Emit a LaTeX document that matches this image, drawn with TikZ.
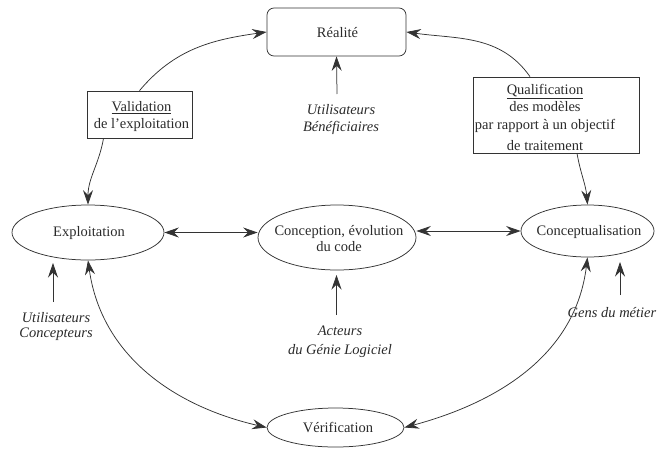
\documentclass[tikz,border=0pt]{standalone}
\usepackage{fontspec}
\setmainfont{Liberation Serif}
\usetikzlibrary{shapes.geometric,arrows.meta}
\definecolor{linegray}{HTML}{333333}
\definecolor{textgray}{HTML}{2A2A2A}
\begin{document}
\fontsize{14.5}{16}\selectfont
\begin{tikzpicture}[x=1pt,y=1pt,
  line/.style={draw=linegray, line width=0.75pt},
  tip/.tip={Stealth[length=14.5pt,width=10pt,inset=5pt]},
  arr/.style={line, -tip},
  darr/.style={line, tip-tip},
  box/.style={draw=linegray, line width=0.75pt, inner sep=0pt, align=center, text=textgray},
  ell/.style={ellipse, draw=linegray, line width=0.75pt, inner sep=0pt},
  txt/.style={align=center, text=textgray, inner sep=0pt},
  lbl/.style={font=\itshape, align=center, text=textgray, inner sep=0pt}]
\useasboundingbox (0,0) rectangle (671,-450);

% boxes
\node[box, rounded corners=7pt, minimum width=139pt, minimum height=48pt] (real) at (336.5,-32) {};
\node[txt] (realt) at (337.5,-33) {Réalité};
\node[box, minimum width=105pt, minimum height=47pt] (val) at (139.5,-114.5) {};
\node[txt, font=\fontsize{14.5}{17}\selectfont] (valt) at (141.5,-117) {\underline{Validation}\\de l’exploitation};
\node[box, minimum width=166pt, minimum height=76pt] (qual) at (556,-115) {};
\node[txt, font=\fontsize{14.5}{17.5}\selectfont] (qualt) at (545,-117) {\underline{Qualification}\\des modèles\\par rapport à un objectif\\[3.5pt]de traitement};

% ellipses
\node[ell, minimum width=152pt, minimum height=55pt] (expl) at (88,-232.5) {};
\node[txt] (explt) at (89,-233) {Exploitation};
\node[ell, minimum width=158pt, minimum height=65pt] (conc) at (337,-237.5) {};
\node[txt] (conct) at (339,-239) {Conception, évolution\\du code};
\node[ell, minimum width=133pt, minimum height=52pt] (cptl) at (587.5,-231) {};
\node[txt] (cptlt) at (589,-232) {Conceptualisation};
\node[ell, minimum width=137pt, minimum height=39pt] (verif) at (335.5,-427.5) {};
\node[txt] (verift) at (338,-427) {Vérification};

% italic labels
\node[lbl, font=\fontsize{14.5}{17}\selectfont\itshape] (ub) at (341,-120) {Utilisateurs\\Bénéficiaires};
\node[lbl, font=\fontsize{14.5}{15}\selectfont\itshape] (uc) at (56,-327) {Utilisateurs\\Concepteurs};
\node[lbl, font=\fontsize{14.5}{19}\selectfont\itshape] (agl) at (340,-342) {Acteurs\\du Génie Logiciel};
\node[lbl] (gm) at (612,-313) {Gens du métier};

% free ends
\coordinate (ubtop) at (337,-94);
\coordinate (uctop) at (53,-302);
\coordinate (uctip) at (53,-263);
\coordinate (agltop) at (336.5,-315);
\coordinate (agltip) at (336.5,-275);
\coordinate (gmtop) at (620,-295);
\coordinate (gmtip) at (620,-262);

% connectors
\draw[arr] (val.north) to[out=50,in=188] (real.west);
\draw[arr] ([xshift=-26pt]qual.north) to[out=125,in=-8] (real.east);
\draw[arr] (ubtop) -- (real.south);
\draw[arr] ([xshift=-36pt]val.south) to[out=-100,in=90] (expl.north);
\draw[arr] ([xshift=21pt]qual.south) to[out=-80,in=95] (cptl.north);
\draw[darr] (expl.east) -- (expl.east -| conc.west);
\draw[darr] (conc.east |- cptl.west) -- (cptl.west);
\draw[arr] (uctop) -- (uctip);
\draw[arr] (agltop) -- (agltip);
\draw[arr] (gmtop) -- (gmtip);
\draw[darr] (expl.south) to[out=-82,in=167] (verif.west);
\draw[darr] (cptl.south) to[out=-97,in=15] (verif.east);
\end{tikzpicture}
\end{document}
